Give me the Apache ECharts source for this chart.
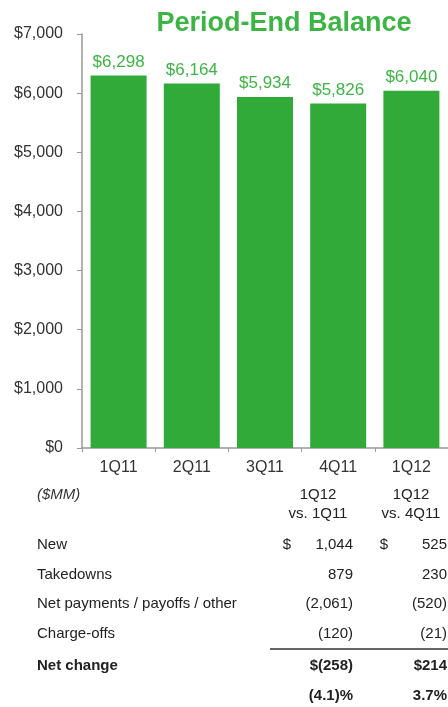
<!DOCTYPE html>
<html>
<head>
<meta charset="utf-8">
<script src="https://cdn.jsdelivr.net/npm/echarts@6/dist/echarts.min.js"></script>
<style>
  html, body { margin: 0; padding: 0; background: #fff; }
  #chart { width: 448px; height: 707px; }
</style>
</head>
<body>
<div id="chart"></div>
<script>
// Quarterly period-end balances ($MM)
const quarters = ['1Q11', '2Q11', '3Q11', '4Q11', '1Q12'];
const balances = [6298, 6164, 5934, 5826, 6040];
const yTicks = [0, 1000, 2000, 3000, 4000, 5000, 6000, 7000];

// Roll-forward table
const rowLabels = ['New', 'Takedowns', 'Net payments / payoffs / other', 'Charge-offs', 'Net change', ''];
const vs1Q11 = ['1,044', '879', '(2,061)', '(120)', '$(258)', '(4.1)%'];
const vs4Q11 = ['525', '230', '(520)', '(21)', '$214', '3.7%'];
const colHeaders = [['1Q12', 'vs. 1Q11'], ['1Q12', 'vs. 4Q11']];

const GREEN = '#32aa3a';
const LABEL_GREEN = '#3db545';
const FONT = 'Liberation Sans, Arial, sans-serif';
const TXT = '#222';

const fmt = v => '$' + v.toLocaleString('en-US');

const chart = echarts.init(document.getElementById('chart'));

// table layout
const rowY = [545, 575, 604, 634, 666, 696];
const boldRow = [false, false, false, false, true, true];
const col1Right = 353, col2Right = 447;
const TFS = 15;
const graphics = [];

graphics.push({
  type: 'text', x: 37, y: 495,
  style: { text: '($MM)', font: 'italic ' + TFS + 'px ' + FONT, fill: '#333', verticalAlign: 'middle' }
});
const headerX = [318, 411];
colHeaders.forEach((lines, i) => {
  lines.forEach((t, j) => {
    graphics.push({
      type: 'text', x: headerX[i], y: 495 + j * 19,
      style: { text: t, font: TFS + 'px ' + FONT, fill: TXT, align: 'center', verticalAlign: 'middle' }
    });
  });
});
rowLabels.forEach((lab, i) => {
  const f = (boldRow[i] ? 'bold ' : '') + TFS + 'px ' + FONT;
  if (lab) {
    graphics.push({ type: 'text', x: 37, y: rowY[i],
      style: { text: lab, font: f, fill: TXT, verticalAlign: 'middle' } });
  }
  graphics.push({ type: 'text', x: col1Right, y: rowY[i],
    style: { text: vs1Q11[i], font: f, fill: TXT, align: 'right', verticalAlign: 'middle' } });
  graphics.push({ type: 'text', x: col2Right, y: rowY[i],
    style: { text: vs4Q11[i], font: f, fill: TXT, align: 'right', verticalAlign: 'middle' } });
});
// dollar signs on the first row
graphics.push({ type: 'text', x: 287, y: rowY[0],
  style: { text: '$', font: TFS + 'px ' + FONT, fill: TXT, align: 'center', verticalAlign: 'middle' } });
graphics.push({ type: 'text', x: 384, y: rowY[0],
  style: { text: '$', font: TFS + 'px ' + FONT, fill: TXT, align: 'center', verticalAlign: 'middle' } });
// subtotal rule
graphics.push({ type: 'line', shape: { x1: 270, y1: 649, x2: 448, y2: 649 },
  style: { stroke: '#333', lineWidth: 1.5 } });

chart.setOption({
  animation: false,
  backgroundColor: '#fff',
  title: {
    text: 'Period-End Balance',
    left: 279, top: 5, textAlign: 'center',
    textStyle: { color: LABEL_GREEN, fontSize: 27, fontWeight: 'bold', fontFamily: FONT }
  },
  grid: { left: 82, top: 34, width: 369, bottom: 259, containLabel: false },
  xAxis: {
    type: 'category',
    data: quarters,
    axisLine: { lineStyle: { color: '#999', width: 1.5 } },
    axisTick: { show: true, alignWithLabel: false, length: 4, lineStyle: { color: '#999' } },
    axisLabel: { color: '#333', fontSize: 16, fontFamily: FONT, margin: 12 }
  },
  yAxis: {
    type: 'value',
    min: yTicks[0], max: yTicks[yTicks.length - 1], interval: 1000,
    splitLine: { show: false },
    axisLine: { show: true, lineStyle: { color: '#999', width: 1.5 } },
    axisTick: { show: true, length: 5, lineStyle: { color: '#999' } },
    axisLabel: { color: '#333', fontSize: 16, fontFamily: FONT, margin: 19, formatter: v => fmt(v) }
  },
  series: [{
    type: 'bar',
    data: balances,
    barWidth: 56,
    itemStyle: { color: GREEN },
    label: {
      show: true, position: 'top', distance: 5,
      color: LABEL_GREEN, fontSize: 17, fontFamily: FONT,
      formatter: p => fmt(p.value)
    }
  }],
  graphic: graphics
});
</script>
</body>
</html>
